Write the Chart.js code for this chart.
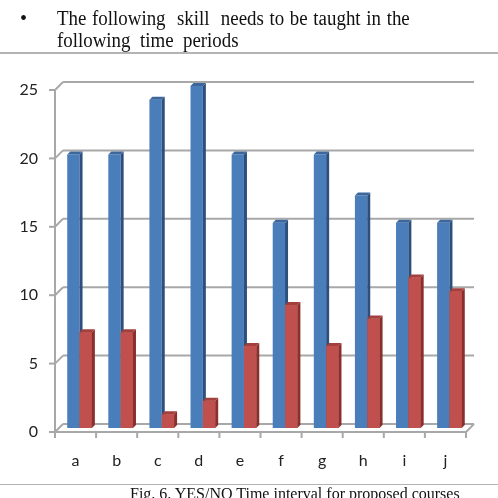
<!DOCTYPE html>
<html>
<head>
<meta charset="utf-8">
<script src="https://cdn.jsdelivr.net/npm/chart.js@4.4.1/dist/chart.umd.min.js"></script>
<style>
    body { margin: 0; background: #fff; }
    #wrap { position: relative; width: 498px; height: 498px; overflow: hidden; background: #fff; }
    .serif { position: absolute; font-family: "Liberation Serif", "DejaVu Serif", serif; color: #111; white-space: nowrap; transform-origin: 0 0; }
    .regua { position: absolute; left: 0; width: 498px; height: 1px; background: #b4b4b4; }
    canvas { position: absolute; left: 0; top: 0; }
</style>
</head>
<body>
<div id="wrap">
    <canvas id="chart" width="498" height="498"></canvas>
    <div class="serif" style="left:20px; top:7px; font-size:20px;">&bull;</div>
    <div class="serif" style="left:57px; top:7px; font-size:20px; word-spacing:1px; transform:scaleX(0.945);">The following&nbsp; skill&nbsp; needs to be taught in the</div>
    <div class="serif" style="left:57px; top:29px; font-size:20px; transform:scaleX(0.945);">following&nbsp; time&nbsp; periods</div>
    <div class="regua" style="top:52px; height:2px;"></div>
    <div class="regua" style="top:484px;"></div>
    <div class="serif" style="left:130px; top:485px; font-size:16px; transform:scaleX(1.0);">Fig. 6. YES/NO Time interval for proposed courses</div>
</div>
<script>
var categorias = ['a', 'b', 'c', 'd', 'e', 'f', 'g', 'h', 'i', 'j'];
var valoresSim = [20, 20, 24, 25, 20, 15, 20, 17, 15, 15];
var valoresNao = [7, 7, 1, 2, 6, 9, 6, 8, 11, 10];
var ticksY = [0, 5, 10, 15, 20, 25];

var meio = 4;      // metade da profundidade da caixa 3D
var prof = 3;      // profundidade das barras
var cores = [
    { face: '#4a7ebb', lado: '#2c4f7e', topo: '#3b679c' },
    { face: '#c0504d', lado: '#8a2f2c', topo: '#a33f3c' }
];

function linha(ctx, x1, y1, x2, y2) {
    ctx.beginPath();
    ctx.moveTo(x1, y1);
    ctx.lineTo(x2, y2);
    ctx.stroke();
}

function poligono(ctx, pts, cor) {
    ctx.beginPath();
    ctx.moveTo(pts[0][0], pts[0][1]);
    for (let i = 1; i < pts.length; i++) ctx.lineTo(pts[i][0], pts[i][1]);
    ctx.closePath();
    ctx.fillStyle = cor;
    ctx.fill();
}

var caixa3d = {
    id: 'caixa3d',
    beforeDatasetsDraw: function (chart) {
        const ctx = chart.ctx;
        const x = chart.scales.x, y = chart.scales.y;
        const fl = x.left - meio, fr = x.right - meio;
        const bl = x.left + meio, br = x.right + meio;
        ctx.save();
        ctx.strokeStyle = '#a8a8a8';
        ctx.lineWidth = 2;
        for (let i = 0; i < ticksY.length; i++) {
            const py = y.getPixelForValue(ticksY[i]);
            linha(ctx, bl, py - meio, br, py - meio);
            linha(ctx, fl, py + meio, bl, py - meio);
            linha(ctx, fl - 6, py + meio, fl, py + meio);
        }
        linha(ctx, fl, y.top + meio, fl, y.bottom + meio);
        linha(ctx, fl, y.bottom + meio, fr, y.bottom + meio);
        linha(ctx, fr, y.bottom + meio, br, y.bottom - meio);
        const largCat = (x.right - x.left) / categorias.length;
        for (let i = 0; i <= categorias.length; i++) {
            const px = fl + i * largCat;
            linha(ctx, px, y.bottom + meio, px, y.bottom + meio + 6);
        }
        ctx.restore();
    },
    afterDatasetsDraw: function (chart) {
        const ctx = chart.ctx;
        ctx.save();
        for (let i = 0; i < categorias.length; i++) {
            for (let d = 0; d < 2; d++) {
                const bar = chart.getDatasetMeta(d).data[i];
                const esq = bar.x - bar.width / 2, dir = bar.x + bar.width / 2;
                const topo = bar.y, base = bar.base;
                if (d == 1) {
                    poligono(ctx, [[esq, topo], [dir, topo], [dir, base], [esq, base]], cores[d].face);
                }
                poligono(ctx, [[dir, topo], [dir + prof, topo - prof], [dir + prof, base - prof], [dir, base]], cores[d].lado);
                poligono(ctx, [[esq, topo], [esq + prof, topo - prof], [dir + prof, topo - prof], [dir, topo]], cores[d].topo);
            }
        }
        ctx.restore();
    }
};

var ctx = document.getElementById('chart');
new Chart(ctx, {
    type: 'bar',
    data: {
        labels: categorias,
        datasets: [{
            label: 'YES',
            data: valoresSim,
            backgroundColor: cores[0].face,
            borderWidth: 0
        }, {
            label: 'NO',
            data: valoresNao,
            backgroundColor: cores[1].face,
            borderWidth: 0
        }]
    },
    options: {
        responsive: false,
        animation: false,
        events: [],
        categoryPercentage: 0.6,
        barPercentage: 1.0,
        layout: { padding: { top: 86, right: 28, left: 0, bottom: 0 } },
        plugins: {
            legend: { display: false },
            tooltip: { enabled: false }
        },
        scales: {
            x: {
                grid: { display: false },
                border: { display: false },
                ticks: {
                    color: '#222',
                    font: { family: 'Lato', size: 16 },
                    padding: 15,
                    labelOffset: -meio
                },
                afterFit: function (s) { s.height = 70; }
            },
            y: {
                min: 0,
                max: 25,
                grid: { display: false, drawTicks: false },
                border: { display: false },
                afterBuildTicks: function (s) {
                    s.ticks = ticksY.map(function (v) { return { value: v }; });
                },
                ticks: {
                    color: '#222',
                    font: { family: 'Lato', size: 16 },
                    padding: 21,
                    labelOffset: meio
                },
                afterFit: function (s) { s.width = 59; }
            }
        }
    },
    plugins: [caixa3d]
});
</script>
</body>
</html>
